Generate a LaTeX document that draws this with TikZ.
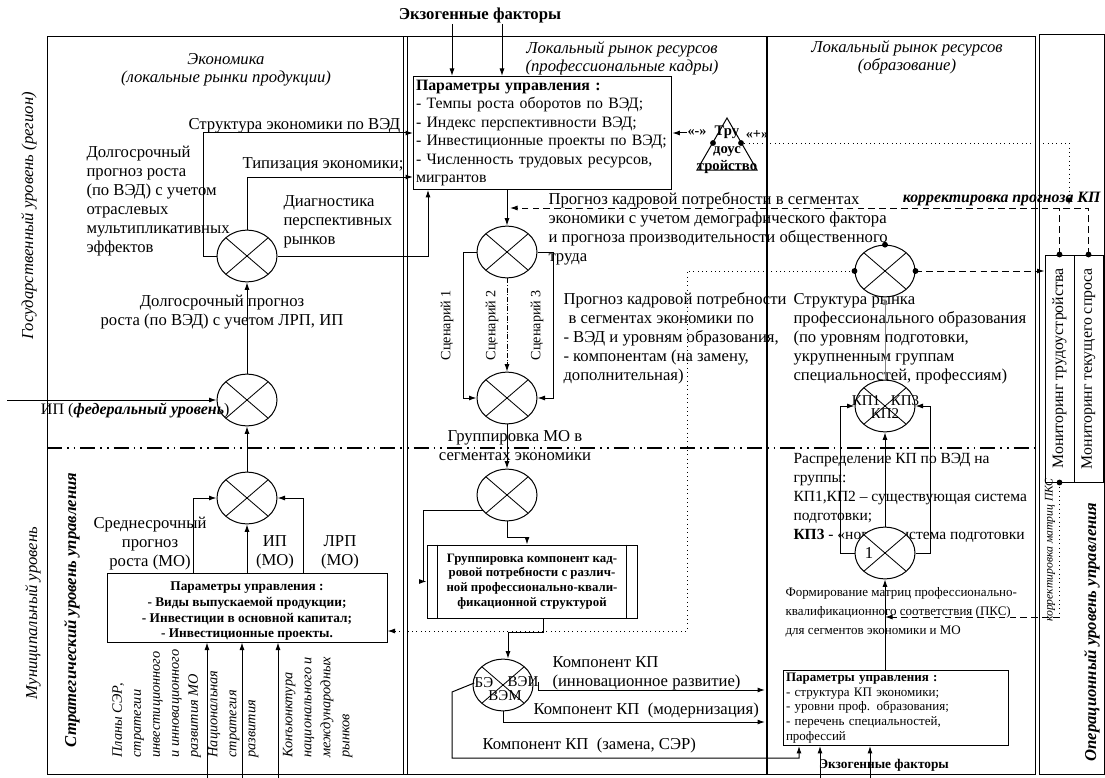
\documentclass[tikz,border=0pt]{standalone}
\usepackage{fontspec}
\setmainfont{Liberation Serif}
\usepackage{graphicx}
\usetikzlibrary{arrows.meta,shapes.geometric}

\tikzset{
  txt/.style={inner sep=0pt, align=left, font=\fontsize{10}{11.4}\selectfont},
  hdr/.style={inner sep=0pt, align=center, font=\fontsize{10}{11}\selectfont\itshape},
  rtxt/.style={inner sep=0pt, align=left, rotate=90, anchor=north west, font=\fontsize{8.6}{11.4}\selectfont\itshape},
  lab/.style={inner sep=0pt, font=\fontsize{9}{9}\selectfont},
  frm/.style={draw, fill=white, inner sep=0pt},
  mult/.style={ellipse, draw, fill=white, minimum width=36pt, minimum height=31pt, inner sep=0pt,
    path picture={\draw[line width=0.5pt] (path picture bounding box.north west) -- (path picture bounding box.south east)
      (path picture bounding box.north east) -- (path picture bounding box.south west);}},
  blob/.style={circle, fill, inner sep=0pt, minimum size=3.5pt},
  arr/.style={-{Latex[length=4.5pt,width=3pt]}},
  dashdotline/.style={line width=1.1pt, dash pattern=on 9pt off 3pt on 1pt off 3pt on 1pt off 3pt},
  dsh/.style={dash pattern=on 4pt off 2.5pt},
}

\begin{document}
\begin{tikzpicture}[x=0.6pt, y=-0.6pt, line width=0.6pt]
  \useasboundingbox (0,0) rectangle (1105,778);

  % frame, columns and levels
  \draw (47,37) rectangle (1035,774);
  \draw (403,37) -- (403,774) (407,37) -- (407,774);
  \draw[line width=0.9pt] (767,37) -- (767,774);
  \draw (1039,35) rectangle (1104,774);
  \draw[dashdotline] (47,448) -- (1035,448);

  % side labels
  \node[hdr, rotate=90] (gosl) at (29,216) {Государственный уровень (регион)};
  \node[hdr, rotate=90] (munl) at (33,613) {Муниципальный уровень};
  \node[hdr, rotate=90, font=\fontsize{10}{11}\selectfont\bfseries\itshape] (strl) at (72,610) {Стратегический уровень управления};
  \node[hdr, rotate=90, font=\fontsize{10}{11}\selectfont\bfseries\itshape] (oper) at (1092,632) {Операционный уровень управления};

  % column headers
  \node[hdr, anchor=north] (h1) at (226,53) {Экономика\\(локальные рынки продукции)};
  \node[hdr, anchor=north] (h2) at (622,41) {Локальный рынок ресурсов\\(профессиональные кадры)};
  \node[hdr, anchor=north] (h3) at (907,40) {Локальный рынок ресурсов\\(образование)};
  \node[inner sep=0pt, font=\fontsize{10}{11}\selectfont\bfseries] (exotop) at (480,15) {Экзогенные факторы};

  % control parameters (region)
  \node[frm, anchor=north west, text width=152pt, align=left, inner xsep=1.5pt, inner ysep=2pt,
    font=\fontsize{9.5}{11.1}\selectfont] (parbox) at (413,76)
    {\textbf{Параметры управления :}\\- Темпы роста оборотов по ВЭД;\\- Индекс перспективности ВЭД;\\- Инвестиционные проекты по ВЭД;\\- Численность трудовых ресурсов,\\мигрантов};

  % texts, column 1
  \node[txt, anchor=west] (strt) at (188,126) {Структура экономики по ВЭД};
  \node[txt, anchor=east] (tipz) at (404,165) {Типизация экономики;};
  \node[txt, anchor=north west] (dolg) at (86,145.5) {Долгосрочный\\прогноз роста\\(по ВЭД) с учетом\\отраслевых\\мультипликативных\\эффектов};
  \node[txt, anchor=north west] (diag) at (283,195.5) {Диагностика\\перспективных\\рынков};
  \node[txt, anchor=north, align=center] (dolg2) at (222,294.5) {Долгосрочный прогноз\\роста (по ВЭД) с учетом ЛРП, ИП};
  \node[txt, anchor=north, align=center] (sred) at (150,516.5) {Среднесрочный\\прогноз\\роста (МО)};
  \node[txt, anchor=north, align=center] (ipmo) at (275,535.5) {ИП\\(МО)};
  \node[txt, anchor=north, align=center] (lrp) at (340,535.5) {ЛРП\\(МО)};
  \node[rtxt] (plans) at (112,758) {Планы СЭР,\\стратегии\\инвестиционного\\и инновационного\\развития МО};
  \node[rtxt] (natl) at (207.5,758) {Национальная\\стратегия\\развития};
  \node[rtxt] (konj) at (282.5,758) {Конъюнктура\\национального и\\международных\\рынков};

  % control parameters (municipality)
  \node[frm, minimum width=168pt, minimum height=41.4pt] (mobox) at (247,607.5) {};
  \node[inner sep=0pt, align=center, anchor=south, font=\fontsize{8}{9.4}\selectfont\bfseries] (motxt) at (247,641)
    {Параметры управления :\\- Виды выпускаемой продукции;\\- Инвестиции в основной капитал;\\- Инвестиционные проекты.};

  % texts, column 2
  \node[txt, anchor=north west] (prog1) at (548,192.5) {Прогноз кадровой потребности в сегментах\\экономики с учетом демографического фактора\\и прогноза производительности общественного\\труда};
  \node[txt, anchor=north west] (prog2) at (563,292.5) {Прогноз кадровой потребности\\\hspace*{3pt}в сегментах экономики по\\- ВЭД и уровням образования,\\- компонентам (на замену,\\дополнительная)};
  \node[txt, rotate=90, font=\fontsize{8.5}{10}\selectfont] (scn1) at (447,325) {Сценарий 1};
  \node[txt, rotate=90, font=\fontsize{8.5}{10}\selectfont] (scn2) at (492,325) {Сценарий 2};
  \node[txt, rotate=90, font=\fontsize{8.5}{10}\selectfont] (scn3) at (537,325) {Сценарий 3};
  \node[txt, anchor=north, align=center] (grpmo) at (515,429.5) {Группировка МО в\\сегментах экономики};
  \node[frm, minimum width=126pt, minimum height=43.8pt, align=center, font=\fontsize{7.7}{8.8}\selectfont\bfseries] (grp) at (532,581.5)
    {Группировка компонент кад-\\ровой потребности с различ-\\ной профессионально-квали-\\фикационной структурой};
  \draw ([xshift=6.6pt]grp.north west) -- ([xshift=6.6pt]grp.south west);
  \draw ([xshift=-6.6pt]grp.north east) -- ([xshift=-6.6pt]grp.south east);
  \node[txt, anchor=north west] (kpi) at (552,656) {Компонент КП\\(инновационное развитие)};
  \node[txt, anchor=west] (kpm) at (533,710) {Компонент КП\ \ (модернизация)};
  \node[txt, anchor=west] (kpz) at (482,745) {Компонент КП\ \ (замена, СЭР)};

  % texts, column 3
  \node[txt, anchor=north west] (strr) at (793,292.5) {Структура рынка\\профессионального образования\\(по уровням подготовки,\\укрупненным группам\\специальностей, профессиям)};
  \node[txt, anchor=north west, font=\fontsize{9.3}{11.4}\selectfont] (raspr) at (793,452.5) {Распределение КП по ВЭД на\\группы:\\КП1,КП2 – существующая система\\подготовки;\\\textbf{КП3} - «новая» система подготовки};
  \node[txt, anchor=north west, font=\fontsize{7.8}{11.4}\selectfont] (form) at (785,587) {Формирование матриц профессионально-\\квалификационного соответствия (ПКС)\\для сегментов экономики и МО};
  \node[frm, anchor=north west, text width=132pt, align=left, inner sep=1.5pt, font=\fontsize{7.8}{8.8}\selectfont] (pbox3) at (783,670)
    {\textbf{Параметры управления :}\\- структура КП экономики;\\- уровни проф. образования;\\- перечень специальностей,\\профессий};
  \node[inner sep=0pt, font=\fontsize{8}{9}\selectfont\bfseries] (exobot) at (884,765) {Экзогенные факторы};

  % monitoring
  \node[frm, minimum width=17.4pt, minimum height=136.2pt, font=\fontsize{9.5}{10}\selectfont] (mon1) at (1059.5,368.5) {\rotatebox{90}{Мониторинг трудоустройства}};
  \node[frm, minimum width=17.4pt, minimum height=136.2pt, font=\fontsize{9.5}{10}\selectfont] (mon2) at (1088.5,368.5) {\rotatebox{90}{Мониторинг текущего спроса}};
  \node[inner sep=0pt, anchor=east, font=\fontsize{9.5}{10}\selectfont\bfseries\itshape] (corr) at (1101,199) {корректировка прогноза КП};
  \node[inner sep=0pt, rotate=90, font=\fontsize{7}{8}\selectfont\itshape] (kmpks) at (1050,550) {корректировка матриц ПКС};

  % labour market triangle
  \coordinate (tA) at (727,118);
  \coordinate (tB) at (757,170);
  \coordinate (tC) at (697,170);
  \draw (tA) -- (tB) -- (tC) -- cycle;
  \node[inner sep=0pt, align=center, font=\fontsize{8.8}{10.5}\selectfont\bfseries] (tru) at (727,150) {Тру\\доус\\тройство};
  \node[blob] (dL) at (713,143) {};
  \node[blob] (dR) at (741,143) {};
  \node[inner sep=0pt, font=\fontsize{8.5}{9}\selectfont\bfseries] (minus) at (697,133) {«-»};
  \node[inner sep=0pt, font=\fontsize{8.5}{9}\selectfont\bfseries] (plus) at (757,134) {«+»};

  % multipliers
  \node[mult] (c1) at (247,256) {};
  \node[mult] (c2) at (247,400) {};
  \node[mult] (c3) at (247,498) {};
  \node[mult] (c4) at (507,252) {};
  \node[mult] (c5) at (507,398) {};
  \node[mult] (c6) at (507,495) {};
  \node[mult] (c7) at (503,685) {};
  \node[mult] (c8) at (885,271) {};
  \node[mult] (c9) at (885,406) {};
  \node[mult] (c10) at (885,553) {};
  \node[lab] (be) at (484,683) {БЭ};
  \node[lab] (vei) at (523,682) {ВЭИ};
  \node[lab] (vem) at (505,696) {ВЭМ};
  \node[lab] (kp1) at (866,401) {КП1};
  \node[lab] (kp3) at (905,401) {КП3};
  \node[lab] (kp2) at (885,414) {КП2};
  \node[txt] (one) at (869,553) {1};
  \node[txt, anchor=east, font=\fontsize{9.6}{11}\selectfont] (fed) at (230,410) {ИП (\textbf{\textit{федеральный уровень}})};

  % column 1 links
  \coordinate (k1) at (203,133);
  \coordinate (k2) at (247,177);
  \coordinate (k3) at (428,256);
  \draw[arr] (c1.west) -| (k1) -- (k1 -| parbox.west);
  \draw[arr] (c1.north) -- (k2) -- (k2 -| parbox.west);
  \draw[arr] (c1.east) -- (k3) -- (k3 |- parbox.south);
  \draw[arr] (c2.north) -- (c1.south);
  \coordinate (fedin) at (7,400);
  \draw[arr] (fedin) -- (c2.west);
  \draw[arr] (c3.north) -- (c2.south);
  \coordinate (mL) at (193,573);
  \coordinate (mR) at (303,573);
  \draw[arr] (mL) |- (c3.west);
  \draw[arr] (mR) |- (c3.east);
  \draw[arr] (mobox.north) -- (c3.south);
  \foreach \x in {207,242,278} {
    \coordinate (b\x) at (\x,778);
    \draw[arr] (b\x) -- (b\x |- mobox.south);
  }

  % column 2 links
  \coordinate (e1) at (452,24);
  \coordinate (e2) at (502,24);
  \draw[arr] (e1) -- (e1 |- parbox.north);
  \draw[arr] (e2) -- (e2 |- parbox.north);
  \draw[arr] (c4.north |- parbox.south) -- (c4.north);
  \coordinate (sc1) at (463,252);
  \coordinate (sc3) at (553,252);
  \draw[arr] (c4.west) -- (sc1) |- (c5.west);
  \draw[arr] (c4.east) -- (sc3) |- (c5.east);
  \draw[arr, densely dashdotted] (c4.south) -- (c5.north);
  \draw[arr] (c5.south) -- (c6.north);
  \coordinate (j2) at (527,537);
  \draw[arr] (c6.south) |- (j2) -- (j2 |- grp.north);
  \coordinate (j3) at (423,0);
  \draw[arr] (c6.213) -- (c6.213 -| j3) |- (grp.west);
  \coordinate (j4) at (543,632);
  \coordinate (j5) at (508,632);
  \draw[arr] (grp.south -| j4) -- (j4) -- (j5) -- (j5 |- c7.north);
  \coordinate (a1) at (765,690);
  \coordinate (a2) at (765,722);
  \draw[arr] (vei.east) |- (a1);
  \draw[arr] (c7.south) |- (a2);
  \coordinate (z1) at (452,692);
  \coordinate (z2) at (799,758);
  \draw[arr] (be.west) -- (z1) |- (z2) -- (z2 |- pbox3.south);
  \draw[arr] (minus.west) -- (minus.west -| parbox.east);

  % column 3 links
  \draw[arr, gray] (c9.north) -- (c8.south);
  \coordinate (q1) at (840,0);
  \coordinate (q2) at (930,0);
  \draw[arr] (c10.west) -- (c10.west -| q1) |- (c9.west);
  \draw[arr] (c10.east) -- (c10.east -| q2) |- (c9.east);
  \draw[arr] (c10.north) -- (c9.south);
  \draw[arr] (c10.south |- pbox3.north) -- (c10.south);
  \foreach \x in {820,870} {
    \coordinate (x\x) at (\x,778);
    \draw[arr] (x\x) -- (x\x |- pbox3.south);
  }

  % feedback
  \coordinate (dt1) at (687,631);
  \draw[dotted, arr] (c8.west) -| (dt1) -- (dt1 -| mobox.east);
  \coordinate (corrA) at (1069,205);
  \draw[dotted, arr] (dR) -| (corrA);
  \coordinate (corrT) at (510,208);
  \draw[dsh, arr] (mon2.north) |- (corrT);
  \draw[dsh] (mon1.north) -- (mon1.north |- corrT);
  \draw[dsh, arr] (c8.east) -- (c8.east -| mon1.west);
  \coordinate (pk) at (1059.5,617);
  \draw[dotted] (mon1.south) -- (pk);
  \draw[dsh, arr] (pk) -- (pk -| c10.south);

  % dots
  \node[blob] (d1) at (mon1.north) {};
  \node[blob] (d2) at (mon2.north) {};
  \node[blob] (d3) at (mon1.south) {};
  \node[blob] (d4) at (c8.west) {};
  \node[blob] (d5) at (c8.east) {};
  \node[blob] (d6) at (c8.north) {};
\end{tikzpicture}
\end{document}
